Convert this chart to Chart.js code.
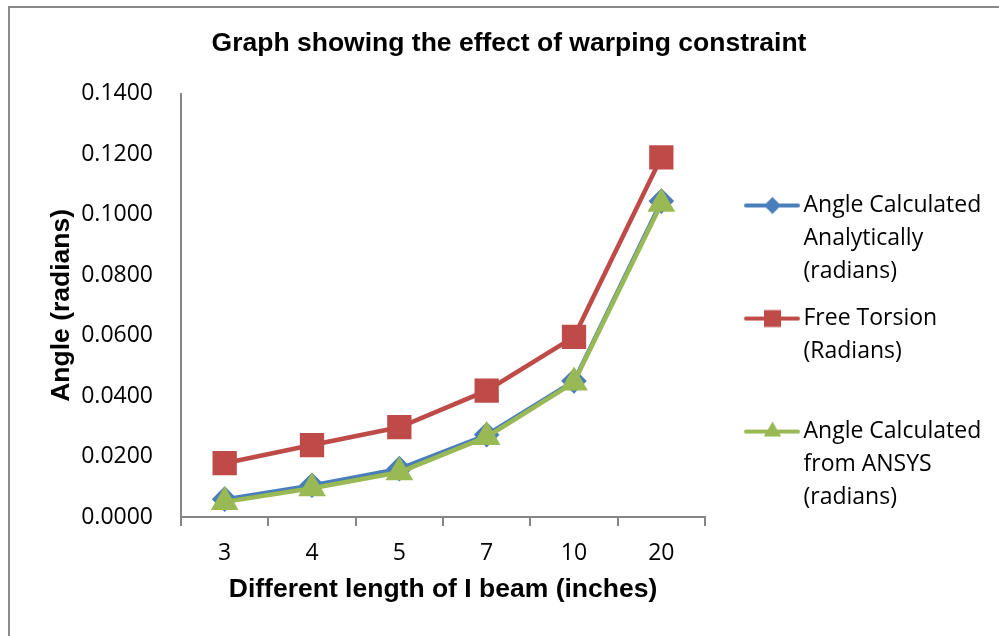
<!DOCTYPE html>
<html>
<head>
    <meta charset="utf-8" />
    <title>Graph showing the effect of warping constraint</title>
    <script src="https://cdn.jsdelivr.net/npm/chart.js"></script>
    <style>
        html, body { margin: 0; padding: 0; background: #fff; overflow: hidden; }
    </style>
</head>
<body>
    <canvas id="myChart" width="999" height="636"></canvas>

    <script>
        // data
        const lengths = ['3', '4', '5', '7', '10', '20'];
        const angleAnalytical = [0.0059, 0.0105, 0.0160, 0.0272, 0.0450, 0.1045];
        const angleFreeTorsion = [0.0178, 0.0238, 0.0297, 0.0418, 0.0596, 0.1190];
        const angleAnsys = [0.0050, 0.0095, 0.0148, 0.0265, 0.0445, 0.1036];
        const seriesLabels = [
            ['Angle Calculated', 'Analytically', '(radians)'],
            ['Free Torsion', '(Radians)', ''],
            ['Angle Calculated', 'from ANSYS', '(radians)']
        ];

        const blue = '#4a7ebb', red = '#be4b48', green = '#98b954';
        const axisGrey = '#868686';
        const tickFont = { family: 'Open Sans', size: 23 };
        const titleFont = { family: 'Liberation Sans', size: 26.5, weight: 'bold' };
        const legendWidth = 294;

        // line + marker swatch for the legend
        function legendIcon(color, style, radius) {
            const c = document.createElement('canvas');
            c.width = 89; c.height = 26;
            const g = c.getContext('2d');
            g.strokeStyle = color;
            g.lineWidth = 4;
            g.lineCap = 'round';
            g.beginPath(); g.moveTo(35, 13); g.lineTo(87, 13); g.stroke();
            g.fillStyle = color;
            Chart.helpers.drawPoint(g, { pointStyle: style, radius: radius, borderWidth: 0 }, 61.5, 13);
            return c;
        }
        const legendIcons = [
            legendIcon(blue, 'rectRot', 8.5),
            legendIcon(red, 'rect', 12),
            legendIcon(green, 'triangle', 10)
        ];

        // grey frame of the chart object
        const framePlugin = {
            id: 'frame',
            beforeDraw(chart) {
                const c = chart.ctx;
                c.save();
                c.fillStyle = '#fff';
                c.fillRect(0, 0, chart.width, chart.height);
                c.strokeStyle = '#8a8a8a';
                c.lineWidth = 2;
                c.strokeRect(9, 7, chart.width + 10, chart.height + 10);
                c.restore();
            }
        };

        // layout caps a side legend at a quarter of the width; give it the room Excel does
        const wideLegend = {
            id: 'wideLegend',
            beforeLayout(chart) {
                const lg = chart.legend;
                if (lg && !lg._wide) {
                    const fit = lg.fit;
                    lg.fit = function () { fit.call(this); this.width = legendWidth; };
                    lg._wide = true;
                }
            }
        };

        const ctx = document.getElementById('myChart').getContext('2d');
        new Chart(ctx, {
            type: 'line',
            data: {
                labels: lengths,
                datasets: [{
                    label: 'Angle Calculated Analytically (radians)',
                    data: angleAnalytical,
                    borderColor: blue,
                    backgroundColor: blue,
                    borderWidth: 4,
                    pointStyle: 'rectRot',
                    pointRadius: 10,
                    order: 3
                }, {
                    label: 'Free Torsion (Radians)',
                    data: angleFreeTorsion,
                    borderColor: red,
                    backgroundColor: red,
                    borderWidth: 4.5,
                    pointStyle: 'rect',
                    pointRadius: 14,
                    order: 2
                }, {
                    label: 'Angle Calculated from ANSYS (radians)',
                    data: angleAnsys,
                    borderColor: green,
                    backgroundColor: green,
                    borderWidth: 4.5,
                    pointStyle: 'triangle',
                    pointRadius: 11.5,
                    order: 1
                }]
            },
            options: {
                responsive: false,
                animation: false,
                layout: { padding: { top: 10, left: 19, right: 0, bottom: 0 } },
                plugins: {
                    title: {
                        display: true,
                        text: 'Graph showing the effect of warping constraint',
                        font: titleFont,
                        color: '#000',
                        padding: { top: 18, bottom: 34 }
                    },
                    legend: {
                        position: 'right',
                        align: 'start',
                        title: { display: true, text: '', font: { size: 10, lineHeight: 1 }, padding: { top: 160, bottom: 0 } },
                        labels: {
                            usePointStyle: true,
                            pointStyleWidth: 73,
                            padding: 14,
                            color: '#000',
                            font: { family: 'Open Sans', size: 23, lineHeight: 1.435 },
                            generateLabels: (chart) => chart.data.datasets.map((ds, i) => ({
                                text: seriesLabels[i],
                                fillStyle: ds.borderColor,
                                strokeStyle: ds.borderColor,
                                lineWidth: 0,
                                pointStyle: legendIcons[i],
                                fontColor: '#000',
                                hidden: false,
                                datasetIndex: i
                            }))
                        }
                    },
                    tooltip: { enabled: false }
                },
                scales: {
                    x: {
                        offset: true,
                        grid: { offset: true, drawOnChartArea: false, drawTicks: true, tickLength: 9, color: axisGrey, lineWidth: 2 },
                        border: { color: axisGrey, width: 2 },
                        ticks: { padding: 14, font: tickFont, color: '#000' },
                        title: {
                            display: true,
                            text: 'Different length of I beam (inches)',
                            font: titleFont,
                            color: '#000',
                            padding: { top: 0, bottom: 30 }
                        },
                        afterFit(scale) { scale.height = 119; }
                    },
                    y: {
                        min: 0,
                        max: 0.14,
                        grid: { display: false },
                        border: { color: axisGrey, width: 2 },
                        ticks: {
                            stepSize: 0.02,
                            padding: 20,
                            font: tickFont,
                            color: '#000',
                            callback: (v) => v.toFixed(4)
                        },
                        title: {
                            display: true,
                            text: 'Angle (radians)',
                            font: titleFont,
                            color: '#000',
                            padding: { top: 27, bottom: 0 }
                        },
                        afterFit(scale) { scale.width = 162; }
                    }
                }
            },
            plugins: [framePlugin, wideLegend]
        });
    </script>
</body>
</html>
